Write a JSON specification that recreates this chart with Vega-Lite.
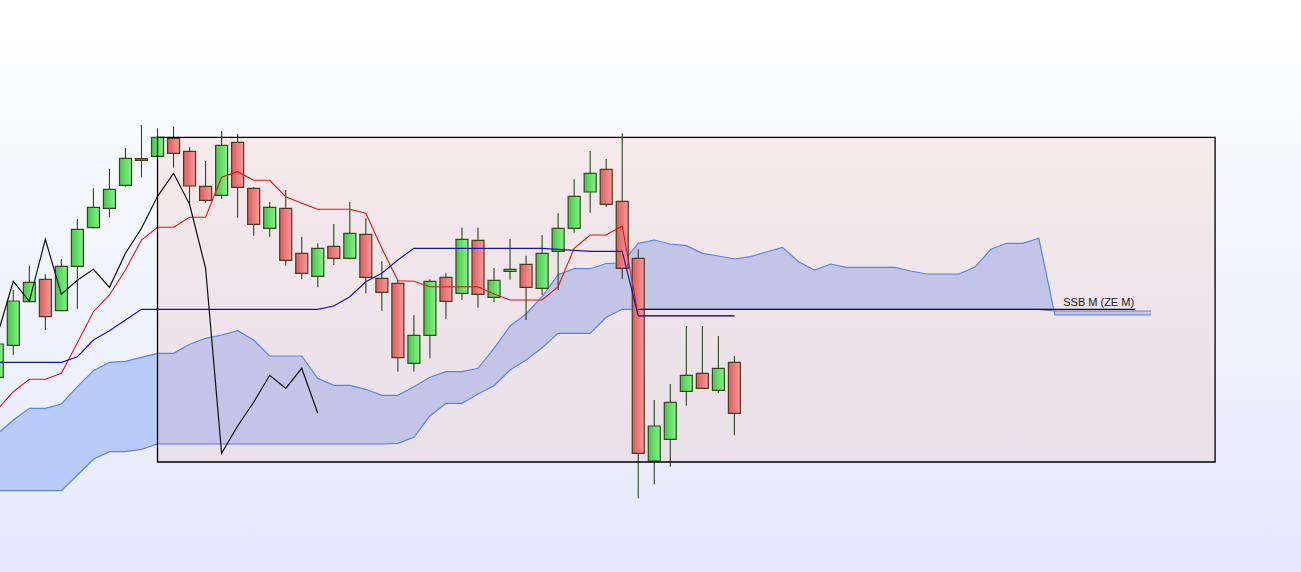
{
  "$schema": "https://vega.github.io/schema/vega-lite/v6.json",
  "width": 1301,
  "height": 572,
  "autosize": {"type": "fit", "contains": "padding"},
  "padding": 0,
  "background": "#ffffff",
  "config": {"view": {"stroke": null}, "scale": {"continuousPadding": 0}},
  "datasets": {
    "bg": [{"i": -0.83, "i2": 80.36, "p": 0, "p2": 57.2}],
    "box": [{"i": 9, "i2": 75, "p": 43.47, "p2": 11.0}],
    "ssb": [{"i": 39, "v": 26.27}, {"i": 70, "v": 26.27}],
    "label": [{"i": 65.52, "v": 26.63, "txt": "SSB M (ZE M)"}],
    "candles": [
      {"i": -1, "o": 19.47, "h": 23.4, "l": 18.8, "c": 22.8},
      {"i": 0, "o": 22.67, "h": 28.2, "l": 21.7, "c": 27.1},
      {"i": 1, "o": 27.03, "h": 30.63, "l": 27.0, "c": 28.97},
      {"i": 2, "o": 29.27, "h": 29.77, "l": 24.2, "c": 25.53},
      {"i": 3, "o": 26.13, "h": 31.3, "l": 26.1, "c": 30.57},
      {"i": 4, "o": 30.57, "h": 35.3, "l": 26.33, "c": 34.27},
      {"i": 5, "o": 34.43, "h": 38.37, "l": 34.37, "c": 36.47},
      {"i": 6, "o": 36.37, "h": 40.3, "l": 35.53, "c": 38.27},
      {"i": 7, "o": 38.67, "h": 42.4, "l": 38.53, "c": 41.37},
      {"i": 8, "o": 41.33, "h": 44.7, "l": 39.53, "c": 41.17},
      {"i": 9, "o": 41.57, "h": 44.37, "l": 41.57, "c": 43.47},
      {"i": 10, "o": 43.37, "h": 44.53, "l": 40.43, "c": 41.87},
      {"i": 11, "o": 42.07, "h": 42.47, "l": 36.87, "c": 38.6},
      {"i": 12, "o": 38.57, "h": 41.1, "l": 36.93, "c": 37.17},
      {"i": 13, "o": 37.67, "h": 44.1, "l": 37.33, "c": 42.67},
      {"i": 14, "o": 42.97, "h": 43.8, "l": 35.43, "c": 38.47},
      {"i": 15, "o": 38.37, "h": 38.47, "l": 33.63, "c": 34.77},
      {"i": 16, "o": 34.37, "h": 37.0, "l": 33.53, "c": 36.47},
      {"i": 17, "o": 36.37, "h": 38.2, "l": 30.63, "c": 31.17},
      {"i": 18, "o": 31.87, "h": 33.5, "l": 29.27, "c": 29.87},
      {"i": 19, "o": 29.57, "h": 32.87, "l": 28.47, "c": 32.37},
      {"i": 20, "o": 32.57, "h": 34.8, "l": 30.7, "c": 31.37},
      {"i": 21, "o": 31.37, "h": 37.0, "l": 31.27, "c": 33.87},
      {"i": 22, "o": 33.77, "h": 35.37, "l": 27.87, "c": 29.47},
      {"i": 23, "o": 29.37, "h": 31.07, "l": 26.13, "c": 27.97},
      {"i": 24, "o": 28.87, "h": 29.2, "l": 20.03, "c": 21.43},
      {"i": 25, "o": 20.87, "h": 25.7, "l": 20.03, "c": 23.67},
      {"i": 26, "o": 23.67, "h": 29.27, "l": 21.37, "c": 29.07},
      {"i": 27, "o": 29.47, "h": 29.87, "l": 25.33, "c": 27.07},
      {"i": 28, "o": 27.87, "h": 34.43, "l": 27.2, "c": 33.27},
      {"i": 29, "o": 33.17, "h": 34.43, "l": 26.43, "c": 27.77},
      {"i": 30, "o": 27.47, "h": 30.4, "l": 26.97, "c": 29.17},
      {"i": 31, "o": 30.07, "h": 33.3, "l": 29.23, "c": 30.27},
      {"i": 32, "o": 30.77, "h": 31.63, "l": 25.2, "c": 28.47},
      {"i": 33, "o": 28.37, "h": 33.7, "l": 27.7, "c": 31.87},
      {"i": 34, "o": 32.07, "h": 35.87, "l": 28.2, "c": 34.37},
      {"i": 35, "o": 34.37, "h": 39.27, "l": 33.93, "c": 37.57},
      {"i": 36, "o": 38.0, "h": 42.1, "l": 35.93, "c": 39.87},
      {"i": 37, "o": 40.27, "h": 41.3, "l": 36.53, "c": 36.77},
      {"i": 38, "o": 37.07, "h": 43.87, "l": 29.27, "c": 30.37},
      {"i": 39, "o": 31.37, "h": 32.27, "l": 7.37, "c": 11.87},
      {"i": 40, "o": 11.1, "h": 17.2, "l": 8.77, "c": 14.6},
      {"i": 41, "o": 13.27, "h": 18.8, "l": 10.53, "c": 16.97},
      {"i": 42, "o": 18.07, "h": 24.6, "l": 16.63, "c": 19.67},
      {"i": 43, "o": 19.87, "h": 24.6, "l": 18.37, "c": 18.37},
      {"i": 44, "o": 18.17, "h": 23.6, "l": 17.93, "c": 20.37},
      {"i": 45, "o": 20.97, "h": 21.6, "l": 13.67, "c": 15.87}
    ],
    "ichimoku": [
      {"i": -1, "t": 16.23, "k": 20.97, "ch": 23.67, "a": 13.8, "b": 8.13},
      {"i": 0, "t": 18.03, "k": 20.97, "ch": 29.07, "a": 15.2, "b": 8.13},
      {"i": 1, "t": 19.27, "k": 20.97, "ch": 27.07, "a": 16.37, "b": 8.13},
      {"i": 2, "t": 19.27, "k": 20.97, "ch": 33.27, "a": 16.37, "b": 8.13},
      {"i": 3, "t": 19.87, "k": 20.97, "ch": 27.77, "a": 16.8, "b": 8.13},
      {"i": 4, "t": 22.93, "k": 21.53, "ch": 29.17, "a": 18.53, "b": 9.7},
      {"i": 5, "t": 26.03, "k": 23.2, "ch": 30.27, "a": 20.13, "b": 11.27},
      {"i": 6, "t": 27.7, "k": 24.13, "ch": 28.47, "a": 20.97, "b": 12.03},
      {"i": 7, "t": 30.2, "k": 25.2, "ch": 31.87, "a": 21.07, "b": 12.03},
      {"i": 8, "t": 33.2, "k": 26.27, "ch": 34.37, "a": 21.47, "b": 12.27},
      {"i": 9, "t": 34.47, "k": 26.27, "ch": 37.57, "a": 21.87, "b": 12.8},
      {"i": 10, "t": 34.47, "k": 26.27, "ch": 39.87, "a": 21.87, "b": 12.8},
      {"i": 11, "t": 35.47, "k": 26.27, "ch": 36.77, "a": 22.77, "b": 12.8},
      {"i": 12, "t": 35.47, "k": 26.27, "ch": 30.37, "a": 23.37, "b": 12.8},
      {"i": 13, "t": 39.47, "k": 26.27, "ch": 11.87, "a": 23.7, "b": 12.8},
      {"i": 14, "t": 40.03, "k": 26.27, "ch": 14.6, "a": 24.13, "b": 12.8},
      {"i": 15, "t": 39.17, "k": 26.27, "ch": 16.97, "a": 23.2, "b": 12.8},
      {"i": 16, "t": 39.17, "k": 26.27, "ch": 19.67, "a": 21.6, "b": 12.8},
      {"i": 17, "t": 37.53, "k": 26.27, "ch": 18.37, "a": 21.6, "b": 12.8},
      {"i": 18, "t": 36.87, "k": 26.27, "ch": 20.37, "a": 21.6, "b": 12.8},
      {"i": 19, "t": 36.27, "k": 26.27, "ch": 15.87, "a": 19.37, "b": 12.8},
      {"i": 20, "t": 36.27, "k": 26.6, "a": 18.67, "b": 12.8},
      {"i": 21, "t": 36.27, "k": 27.53, "a": 18.67, "b": 12.8},
      {"i": 22, "t": 35.87, "k": 29.03, "a": 18.27, "b": 12.8},
      {"i": 23, "t": 32.37, "k": 29.87, "a": 17.67, "b": 12.8},
      {"i": 24, "t": 29.13, "k": 31.2, "a": 17.67, "b": 12.87},
      {"i": 25, "t": 29.07, "k": 32.37, "a": 18.53, "b": 13.47},
      {"i": 26, "t": 28.53, "k": 32.37, "a": 19.47, "b": 15.6},
      {"i": 27, "t": 28.53, "k": 32.37, "a": 20.03, "b": 16.87},
      {"i": 28, "t": 28.53, "k": 32.37, "a": 20.03, "b": 16.87},
      {"i": 29, "t": 28.53, "k": 32.37, "a": 20.37, "b": 17.8},
      {"i": 30, "t": 27.8, "k": 32.37, "a": 22.37, "b": 18.63},
      {"i": 31, "t": 27.2, "k": 32.37, "a": 24.6, "b": 20.2},
      {"i": 32, "t": 27.2, "k": 32.37, "a": 25.8, "b": 21.2},
      {"i": 33, "t": 27.2, "k": 32.37, "a": 27.53, "b": 22.43},
      {"i": 34, "t": 28.53, "k": 32.27, "a": 29.73, "b": 23.87},
      {"i": 35, "t": 32.37, "k": 32.17, "a": 30.33, "b": 23.87},
      {"i": 36, "t": 33.7, "k": 32.07, "a": 30.33, "b": 23.87},
      {"i": 37, "t": 33.7, "k": 32.07, "a": 30.85, "b": 25.47},
      {"i": 38, "t": 34.6, "k": 32.07, "a": 30.9, "b": 26.27},
      {"i": 39, "t": 25.62, "k": 25.62, "a": 32.87, "b": 26.27},
      {"i": 40, "t": 25.62, "k": 25.62, "a": 33.2, "b": 26.27},
      {"i": 41, "t": 25.62, "k": 25.62, "a": 32.8, "b": 26.27},
      {"i": 42, "t": 25.62, "k": 25.62, "a": 32.63, "b": 26.27},
      {"i": 43, "t": 25.62, "k": 25.62, "a": 31.87, "b": 26.27},
      {"i": 44, "t": 25.62, "k": 25.62, "a": 31.6, "b": 26.27},
      {"i": 45, "t": 25.62, "k": 25.62, "a": 31.3, "b": 26.27},
      {"i": 46, "a": 31.53, "b": 26.27},
      {"i": 47, "a": 32.0, "b": 26.27},
      {"i": 48, "a": 32.47, "b": 26.27},
      {"i": 49, "a": 31.03, "b": 26.27},
      {"i": 50, "a": 30.2, "b": 26.27},
      {"i": 51, "a": 30.8, "b": 26.27},
      {"i": 52, "a": 30.47, "b": 26.27},
      {"i": 53, "a": 30.47, "b": 26.27},
      {"i": 54, "a": 30.47, "b": 26.27},
      {"i": 55, "a": 30.47, "b": 26.27},
      {"i": 56, "a": 30.1, "b": 26.27},
      {"i": 57, "a": 29.8, "b": 26.27},
      {"i": 58, "a": 29.8, "b": 26.27},
      {"i": 59, "a": 29.8, "b": 26.27},
      {"i": 60, "a": 30.47, "b": 26.27},
      {"i": 61, "a": 32.27, "b": 26.27},
      {"i": 62, "a": 32.87, "b": 26.27},
      {"i": 63, "a": 32.87, "b": 26.27},
      {"i": 64, "a": 33.37, "b": 26.27},
      {"i": 65, "a": 25.7, "b": 26.1},
      {"i": 66, "a": 25.7, "b": 26.1},
      {"i": 67, "a": 25.7, "b": 26.1},
      {"i": 68, "a": 25.7, "b": 26.1},
      {"i": 69, "a": 25.7, "b": 26.1},
      {"i": 70, "a": 25.7, "b": 26.1},
      {"i": 71, "a": 25.7, "b": 26.1}
    ]
  },
  "encoding": {
    "x": {"field": "i", "type": "quantitative", "scale": {"domain": [-0.83, 80.36], "nice": false, "zero": false, "padding": 0}, "axis": null}
  },
  "layer": [
    {
      "data": {"name": "bg"},
      "mark": {"type": "rect", "clip": true, "fill": {"gradient": "linear", "x1": 0, "y1": 0, "x2": 0, "y2": 1, "stops": [{"offset": 0, "color": "#ffffff"}, {"offset": 1, "color": "#e3e9fb"}]}},
      "encoding": {
        "x2": {"field": "i2"},
        "y": {"field": "p", "type": "quantitative", "scale": {"domain": [0, 57.2], "nice": false, "zero": false, "padding": 0}, "axis": null},
        "y2": {"field": "p2"}
      }
    },
    {
      "data": {"name": "ichimoku"},
      "mark": {"type": "area", "clip": true, "color": "#b8cbfa", "opacity": 1},
      "encoding": {
        "y": {"field": "a", "type": "quantitative", "scale": {"domain": [0, 57.2], "nice": false, "zero": false, "padding": 0}, "axis": null},
        "y2": {"field": "b"}
      }
    },
    {
      "data": {"name": "box"},
      "mark": {"type": "rect", "clip": true, "fill": "#eba8a0", "fillOpacity": 0.2},
      "encoding": {
        "x2": {"field": "i2"},
        "y": {"field": "p", "type": "quantitative", "scale": {"domain": [0, 57.2], "nice": false, "zero": false, "padding": 0}, "axis": null},
        "y2": {"field": "p2"}
      }
    },
    {
      "data": {"name": "ichimoku"},
      "mark": {"type": "line", "clip": true, "color": "#5b84e2", "strokeWidth": 1.2},
      "encoding": {
        "y": {"field": "a", "type": "quantitative", "scale": {"domain": [0, 57.2], "nice": false, "zero": false, "padding": 0}, "axis": null}
      }
    },
    {
      "data": {"name": "ichimoku"},
      "mark": {"type": "line", "clip": true, "color": "#5b84e2", "strokeWidth": 1.2},
      "encoding": {
        "y": {"field": "b", "type": "quantitative", "scale": {"domain": [0, 57.2], "nice": false, "zero": false, "padding": 0}, "axis": null}
      }
    },
    {
      "data": {"name": "candles"},
      "mark": {"type": "rule", "clip": true, "color": "#2b4519", "strokeWidth": 1.1},
      "encoding": {
        "y": {"field": "l", "type": "quantitative", "scale": {"domain": [0, 57.2], "nice": false, "zero": false, "padding": 0}, "axis": null},
        "y2": {"field": "h"}
      }
    },
    {
      "data": {"name": "candles"},
      "transform": [{"filter": "datum.c >= datum.o"}],
      "mark": {"type": "bar", "clip": true, "size": 12, "stroke": "#35481b", "strokeWidth": 1.2,
        "fill": {"gradient": "linear", "x1": 0, "y1": 0, "x2": 1, "y2": 0, "stops": [{"offset": 0, "color": "#3dca48"}, {"offset": 0.6, "color": "#6fe270"}, {"offset": 1, "color": "#8aec8a"}]}},
      "encoding": {
        "y": {"field": "o", "type": "quantitative", "scale": {"domain": [0, 57.2], "nice": false, "zero": false, "padding": 0}, "axis": null},
        "y2": {"field": "c"}
      }
    },
    {
      "data": {"name": "candles"},
      "transform": [{"filter": "datum.c < datum.o"}],
      "mark": {"type": "bar", "clip": true, "size": 12, "stroke": "#4a3a1e", "strokeWidth": 1.2,
        "fill": {"gradient": "linear", "x1": 0, "y1": 0, "x2": 1, "y2": 0, "stops": [{"offset": 0, "color": "#de5a5a"}, {"offset": 0.6, "color": "#ee8383"}, {"offset": 1, "color": "#f39a9a"}]}},
      "encoding": {
        "y": {"field": "o", "type": "quantitative", "scale": {"domain": [0, 57.2], "nice": false, "zero": false, "padding": 0}, "axis": null},
        "y2": {"field": "c"}
      }
    },
    {
      "data": {"name": "ichimoku"},
      "mark": {"type": "line", "clip": true, "color": "#e01414", "strokeWidth": 1.1},
      "encoding": {
        "y": {"field": "t", "type": "quantitative", "scale": {"domain": [0, 57.2], "nice": false, "zero": false, "padding": 0}, "axis": null}
      }
    },
    {
      "data": {"name": "ichimoku"},
      "mark": {"type": "line", "clip": true, "color": "#1717b0", "strokeWidth": 1.2},
      "encoding": {
        "y": {"field": "k", "type": "quantitative", "scale": {"domain": [0, 57.2], "nice": false, "zero": false, "padding": 0}, "axis": null}
      }
    },
    {
      "data": {"name": "ichimoku"},
      "mark": {"type": "line", "clip": true, "color": "#111111", "strokeWidth": 1.2},
      "encoding": {
        "y": {"field": "ch", "type": "quantitative", "scale": {"domain": [0, 57.2], "nice": false, "zero": false, "padding": 0}, "axis": null}
      }
    },
    {
      "data": {"name": "ssb"},
      "mark": {"type": "line", "clip": true, "color": "#111111", "strokeWidth": 1.2},
      "encoding": {
        "y": {"field": "v", "type": "quantitative", "scale": {"domain": [0, 57.2], "nice": false, "zero": false, "padding": 0}, "axis": null}
      }
    },
    {
      "data": {"name": "box"},
      "mark": {"type": "rect", "clip": true, "fill": null, "fillOpacity": 0, "stroke": "#000000", "strokeWidth": 1.3},
      "encoding": {
        "x2": {"field": "i2"},
        "y": {"field": "p", "type": "quantitative", "scale": {"domain": [0, 57.2], "nice": false, "zero": false, "padding": 0}, "axis": null},
        "y2": {"field": "p2"}
      }
    },
    {
      "data": {"name": "label"},
      "mark": {"type": "text", "clip": true, "align": "left", "baseline": "alphabetic", "font": "Liberation Sans", "fontSize": 11, "color": "#1a1a1a"},
      "encoding": {
        "y": {"field": "v", "type": "quantitative", "scale": {"domain": [0, 57.2], "nice": false, "zero": false, "padding": 0}, "axis": null},
        "text": {"field": "txt"}
      }
    }
  ]
}
